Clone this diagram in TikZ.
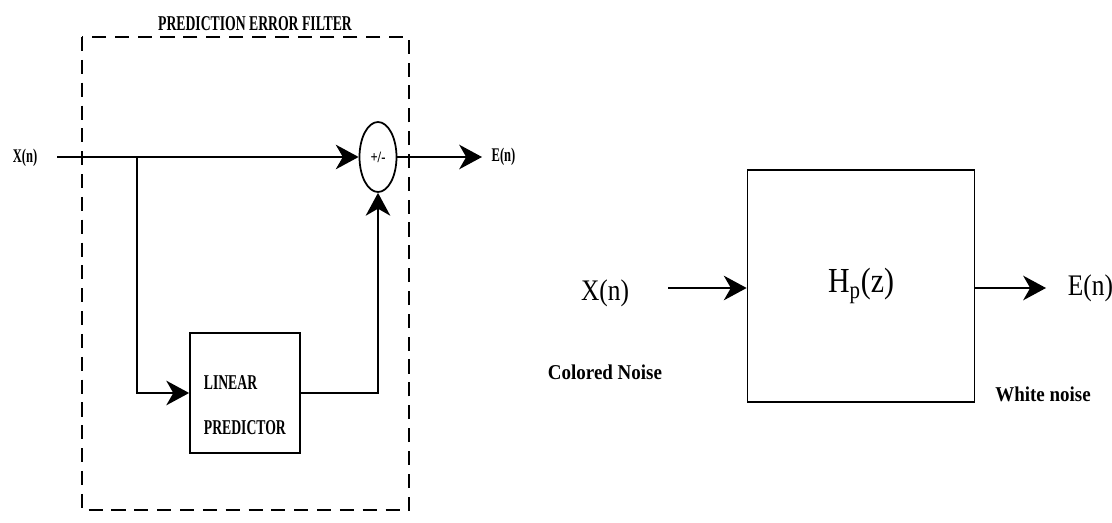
\documentclass[tikz,border=0pt]{standalone}
\usepackage{fontspec}
\setmainfont{Liberation Serif}
\usepackage{graphicx}
\usetikzlibrary{arrows.meta, positioning, shapes.geometric, calc}

% condensed lettering of the scanned figure
\newcommand{\squeeze}[2][0.65]{\scalebox{#1}[1]{#2}}

\begin{document}
\begin{tikzpicture}[
  x=0.02cm, y=-0.02cm,
  line width=1pt,
  sig/.style={-{Stealth[length=13pt,width=14pt,inset=4pt]}},
  block/.style={rectangle, draw, inner sep=0pt},
  sumnode/.style={ellipse, draw, inner sep=0pt, minimum width=0.74cm, minimum height=1.4cm,
    font=\fontsize{9}{10}\selectfont\bfseries},
  framebox/.style={dashed, dash pattern=on 8pt off 5pt, line width=1pt},
  smalllbl/.style={font=\fontsize{11}{13}\selectfont\bfseries, inner sep=0pt},
  biglbl/.style={font=\fontsize{17}{19}\selectfont, inner sep=0pt},
  notelbl/.style={font=\fontsize{12}{14}\selectfont\bfseries, inner sep=0pt},
]
  \useasboundingbox (0,0) rectangle (1112,523);

  % left: prediction error filter
  \draw[framebox] (82,37) rectangle (409,510);
  \node[notelbl] (title) at (255,24) {\squeeze{PREDICTION ERROR FILTER}};

  \node[smalllbl] (xl) at (25,158) {\squeeze{X(n)}};
  \coordinate (in) at (57,157);
  \coordinate (br) at (137,157);
  \node[sumnode] (sum) at (378,157) {\squeeze[0.8]{+/-}};
  \node[block, minimum width=2.2cm, minimum height=2.4cm] (pred) at (245,393) {};
  \node[notelbl, anchor=west, align=left] (predtxt) at (203,405)
    {\squeeze{LINEAR}\\[12pt]\squeeze{PREDICTOR}};
  \coordinate (eout) at (482,157);
  \node[smalllbl, right=5pt of eout] (el) {\squeeze{E(n)}};

  \draw[sig] (in) -- (sum.west);
  \draw[sig] (br) |- (pred.west);
  \draw[sig] (pred.east) -| (sum.south);
  \draw[sig] (sum.east) -- (eout);

  % right: whitening filter
  \node[block, minimum width=4.54cm, minimum height=4.64cm,
    font=\fontsize{20}{22}\selectfont] (hp) at (861,286) {\squeeze[0.85]{H\textsubscript{p}(z)}};
  \node[biglbl] (xr) at (605,293) {\squeeze[0.85]{X(n)}};
  \coordinate (xrin) at (668,288);
  \coordinate (hpout) at (1046,288);
  \node[biglbl, right=12pt of hpout] (er) {\squeeze[0.85]{E(n)}};
  \node[notelbl] (colored) at (605,372) {\squeeze[0.9]{Colored Noise}};
  \node[notelbl] (white) at (1043,394) {\squeeze[0.9]{White noise}};

  \draw[sig] (xrin) -- (xrin -| hp.west);
  \draw[sig] (hpout -| hp.east) -- (hpout);
\end{tikzpicture}
\end{document}
